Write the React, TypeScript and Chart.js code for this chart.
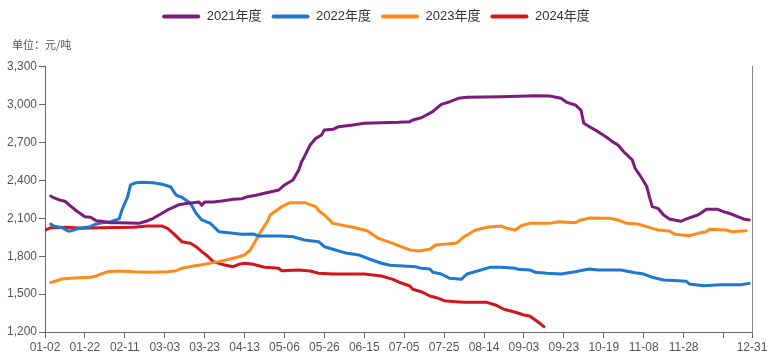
import React, { useEffect, useRef } from "react";
import { Chart, registerables } from "chart.js";

Chart.register(...registerables);

const tickLabels = ["01-02", "01-22", "02-11", "03-03", "03-23", "04-13", "05-06", "05-26", "06-15", "07-05", "07-25", "08-14", "09-03", "09-23", "10-19", "11-08", "11-28", "", "12-31"];
const tickDays = [0, 14, 28, 42, 56, 70, 84, 98, 112, 126, 140, 154, 168, 182, 196, 210, 224, 238, 248];

const days2021 = [2, 3, 5, 7, 9, 11, 14, 16, 18, 20, 23, 26, 33, 36, 38, 40, 43, 45, 47, 50, 52, 54, 55, 56, 59, 62, 66, 69, 71, 74, 77, 82, 84, 87, 89, 90, 91, 93, 95, 97, 98, 101, 103, 108, 112, 118, 124, 128, 129, 132, 136, 139, 142, 145, 148, 160, 172, 177, 181, 183, 186, 188, 189, 191, 194, 197, 199, 201, 203, 206, 207, 209, 211, 212, 213, 215, 217, 219, 223, 225, 229, 230, 232, 236, 238, 240, 243, 245, 247];
const values2021 = [2276, 2263, 2245, 2235, 2197, 2160, 2113, 2108, 2081, 2076, 2065, 2065, 2060, 2081, 2100, 2126, 2166, 2187, 2208, 2219, 2224, 2229, 2203, 2229, 2229, 2237, 2250, 2255, 2271, 2282, 2298, 2324, 2364, 2403, 2482, 2548, 2588, 2680, 2733, 2759, 2799, 2804, 2825, 2839, 2852, 2857, 2860, 2865, 2878, 2896, 2944, 3002, 3023, 3050, 3058, 3063, 3071, 3068, 3050, 3018, 2997, 2957, 2852, 2825, 2786, 2741, 2707, 2680, 2627, 2562, 2496, 2429, 2356, 2271, 2192, 2179, 2126, 2095, 2076, 2095, 2126, 2140, 2171, 2171, 2152, 2140, 2113, 2095, 2087];

const days2022 = [2, 3, 6, 8, 9, 12, 16, 17, 19, 23, 26, 27, 29, 30, 32, 34, 38, 41, 44, 46, 48, 51, 53, 55, 58, 61, 66, 69, 73, 75, 83, 87, 91, 96, 98, 101, 105, 110, 114, 118, 121, 124, 130, 132, 135, 136, 139, 142, 146, 148, 152, 156, 160, 165, 166, 170, 172, 176, 181, 186, 189, 191, 194, 202, 207, 210, 213, 217, 222, 225, 226, 231, 237, 244, 247];
const values2022 = [2055, 2039, 2026, 2000, 2000, 2021, 2034, 2047, 2060, 2073, 2095, 2166, 2271, 2364, 2382, 2385, 2382, 2369, 2350, 2284, 2266, 2219, 2140, 2087, 2060, 1994, 1981, 1973, 1976, 1960, 1960, 1954, 1928, 1915, 1875, 1855, 1828, 1810, 1776, 1744, 1728, 1725, 1717, 1704, 1699, 1673, 1659, 1625, 1617, 1659, 1685, 1712, 1712, 1704, 1696, 1691, 1673, 1665, 1659, 1677, 1691, 1699, 1691, 1691, 1669, 1659, 1633, 1612, 1606, 1601, 1580, 1566, 1574, 1574, 1585];

const days2023 = [2, 3, 6, 10, 16, 18, 19, 22, 26, 31, 37, 43, 46, 48, 52, 55, 59, 61, 65, 68, 70, 72, 74, 76, 78, 79, 83, 86, 91, 95, 96, 98, 101, 108, 113, 117, 122, 124, 128, 131, 135, 137, 144, 145, 147, 151, 155, 160, 162, 165, 167, 170, 177, 180, 186, 188, 191, 198, 201, 204, 208, 211, 215, 219, 221, 226, 229, 232, 233, 239, 241, 246];
const values2023 = [1593, 1598, 1620, 1627, 1633, 1643, 1654, 1677, 1683, 1677, 1673, 1677, 1685, 1704, 1722, 1733, 1749, 1757, 1778, 1796, 1810, 1849, 1928, 2007, 2073, 2126, 2192, 2224, 2224, 2192, 2160, 2126, 2060, 2029, 2002, 1941, 1902, 1883, 1849, 1841, 1855, 1889, 1902, 1915, 1954, 2007, 2029, 2039, 2021, 2007, 2041, 2060, 2060, 2073, 2065, 2087, 2102, 2100, 2087, 2060, 2055, 2034, 2007, 2000, 1973, 1962, 1981, 1994, 2013, 2007, 1994, 2002];

const days2024 = [0, 2, 8, 13, 19, 31, 36, 41, 43, 45, 48, 51, 53, 55, 57, 59, 63, 66, 68, 70, 73, 77, 82, 83, 89, 93, 96, 101, 112, 118, 122, 124, 128, 129, 132, 135, 138, 140, 144, 147, 155, 158, 161, 165, 168, 170, 172, 174, 175];
const values2024 = [2007, 2026, 2029, 2021, 2026, 2029, 2039, 2039, 2021, 1981, 1915, 1902, 1875, 1836, 1802, 1757, 1730, 1717, 1736, 1744, 1736, 1712, 1704, 1685, 1691, 1683, 1665, 1659, 1659, 1643, 1617, 1596, 1564, 1538, 1519, 1485, 1467, 1448, 1440, 1435, 1435, 1414, 1380, 1356, 1335, 1327, 1295, 1261, 1242];

const seriesNames = ["2021年度", "2022年度", "2023年度", "2024年度"];
const seriesColors = ["#7B1C7C", "#1E78D2", "#FF8A1C", "#D3161C"];
const unitText = "单位：元/吨";

const yTicks = [1200, 3300, 300];

const pts = (days: number[], vals: number[]) => days.map((d, i) => ({ x: d, y: vals[i] }));

const unitPlugin = {
  id: "unitText",
  afterDraw(chart: any) {
    const t = chart.titleBlock;
    if (!t) return;
    const ctx = chart.ctx;
    ctx.save();
    ctx.fillStyle = "#555";
    ctx.font = "11px 'Noto Sans CJK SC', sans-serif";
    ctx.textAlign = "left";
    ctx.textBaseline = "middle";
    ctx.fillText(unitText, chart.chartArea.left - 33, t.top + 5 + 6.6);
    ctx.restore();
  },
};

export default function App() {
  const ref = useRef<HTMLCanvasElement | null>(null);
  useEffect(() => {
    document.body.style.margin = "0";
    const canvas = ref.current;
    if (!canvas) return;
    const allDays = [days2021, days2022, days2023, days2024];
    const allVals = [values2021, values2022, values2023, values2024];
    const tickFont = { family: "'Liberation Sans', Arial, sans-serif", size: 12 };
    const chart = new Chart(canvas, {
      type: "line",
      data: {
        datasets: seriesNames.map((name, i) => ({
          label: name,
          data: pts(allDays[i], allVals[i]),
          borderColor: seriesColors[i],
          backgroundColor: seriesColors[i],
          borderWidth: 3,
          pointRadius: 0,
          tension: 0,
          fill: false,
          borderJoinStyle: "round" as const,
          borderCapStyle: "round" as const,
        })),
      },
      plugins: [unitPlugin],
      options: {
        responsive: false,
        animation: false,
        layout: { padding: { left: 0, right: 22, top: 0, bottom: 0 } },
        plugins: {
          tooltip: { enabled: false },
          legend: {
            position: "top",
            align: "center",
            labels: {
              boxWidth: 38,
              boxHeight: 4,
              padding: 10,
              color: "#333",
              font: { family: "'Liberation Sans', 'Noto Sans CJK SC', sans-serif", size: 13 },
              useBorderRadius: true,
              borderRadius: 2,
              generateLabels: (c: any) =>
                c.data.datasets.map((ds: any, i: number) => ({
                  text: ds.label,
                  fillStyle: ds.borderColor,
                  strokeStyle: ds.borderColor,
                  lineWidth: 0,
                  hidden: false,
                  datasetIndex: i,
                  borderRadius: 2,
                  fontColor: "#333",
                })),
            },
          },
          title: {
            display: true,
            text: unitText,
            align: "start",
            position: "top",
            weight: 500,
            color: "rgba(0,0,0,0)",
            font: { family: "'Noto Sans CJK SC', sans-serif", size: 11, weight: "normal" },
            padding: { top: 5, bottom: 15.5 },
          } as any,
        },
        scales: {
          x: {
            type: "linear",
            min: tickDays[0],
            max: tickDays[tickDays.length - 1],
            afterBuildTicks: (s: any) => {
              s.ticks = tickDays.map((v) => ({ value: v }));
            },
            afterFit: (s: any) => {
              s.height = 23;
            },
            ticks: {
              autoSkip: false,
              maxRotation: 0,
              minRotation: 0,
              padding: 2,
              color: "#555",
              font: tickFont,
              callback: (_v: any, i: number) => tickLabels[i],
            },
            grid: { drawOnChartArea: false, drawTicks: true, tickLength: 6, color: "#666" },
            border: { display: true, color: "#666", width: 1 },
          },
          y: {
            min: yTicks[0],
            max: yTicks[1],
            afterFit: (s: any) => {
              s.width = 45;
            },
            ticks: {
              stepSize: yTicks[2],
              padding: 2,
              color: "#555",
              font: tickFont,
              callback: (v: any) => Number(v).toLocaleString("en-US"),
            },
            grid: { drawOnChartArea: false, drawTicks: true, tickLength: 6, color: "#666" },
            border: { display: true, color: "#666", width: 1 },
          },
          y2: {
            position: "right",
            min: yTicks[0],
            max: yTicks[1],
            afterFit: (s: any) => {
              s.width = 0;
            },
            ticks: { display: false },
            grid: { display: false },
            border: { display: true, color: "#888", width: 1 },
          },
        },
      } as any,
    });
    return () => chart.destroy();
  }, []);
  return (
    <div style={{ width: 774, height: 355 }}>
      <canvas ref={ref} width={774} height={355} style={{ display: "block" }} />
    </div>
  );
}
